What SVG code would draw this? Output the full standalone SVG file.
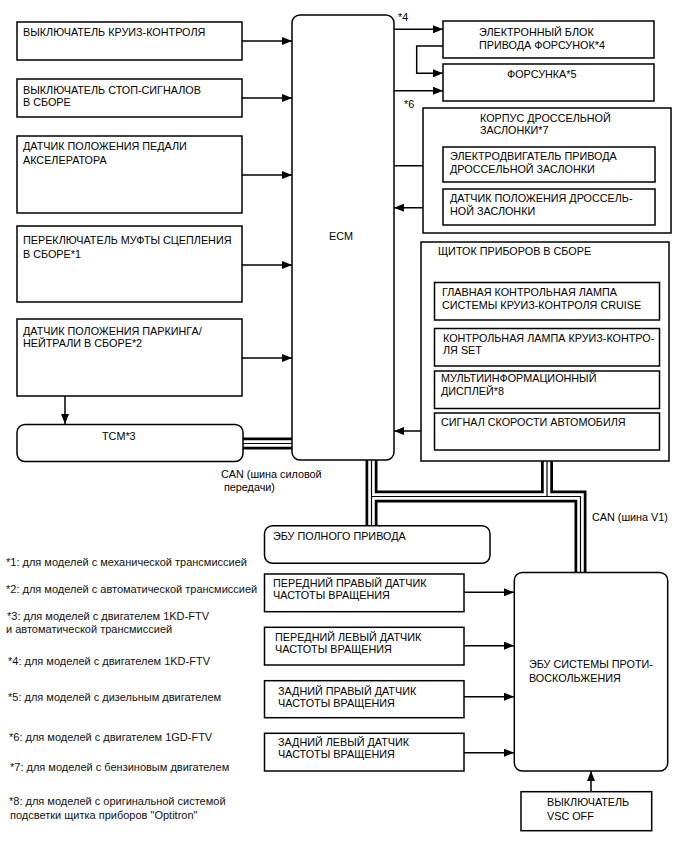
<svg xmlns="http://www.w3.org/2000/svg" width="688" height="852" viewBox="0 0 688 852">
<style>
.box{fill:#fff;stroke:#000;stroke-width:1.5}
.t{font-family:"Liberation Sans",Arial,sans-serif;font-size:10.8px;fill:#000}
.n{font-family:"Liberation Sans",Arial,sans-serif;font-size:11px;fill:#111}
.ln{fill:none;stroke:#000;stroke-width:1.5}
.b1{fill:none;stroke:#000;stroke-width:12;stroke-linejoin:miter}
.b2{fill:none;stroke:#fff;stroke-width:6.5;stroke-linejoin:miter}
.b3{fill:none;stroke:#000;stroke-width:1.2;stroke-linejoin:miter}
</style>
<defs>
<marker id="ah" viewBox="0 0 10 8" refX="10" refY="4" markerWidth="10" markerHeight="8" markerUnits="userSpaceOnUse" orient="auto">
<path d="M0,0 L10,4 L0,8 Z" fill="#000"/>
</marker>
<path id="bus1" d="M243 443.5 H292"/>
<path id="bus2" d="M371.5 460 V525.7"/>
<path id="bus3" d="M371.5 496.5 H580.5 V572.5"/>
<path id="bus4" d="M547 460.7 V496.5"/>
</defs>
<rect width="688" height="852" fill="#fff"/>

<g id="connectors">
<g id="buses">
<use href="#bus1" class="b1"/><use href="#bus2" class="b1"/><use href="#bus3" class="b1"/><use href="#bus4" class="b1"/>
<use href="#bus1" class="b2"/><use href="#bus2" class="b2"/><use href="#bus3" class="b2"/><use href="#bus4" class="b2"/>
<use href="#bus1" class="b3"/><use href="#bus2" class="b3"/><use href="#bus3" class="b3"/><use href="#bus4" class="b3"/>
</g>
<path class="ln" d="M242 41 H292" marker-end="url(#ah)"/>
<path class="ln" d="M242 98 H292" marker-end="url(#ah)"/>
<path class="ln" d="M242 175 H292" marker-end="url(#ah)"/>
<path class="ln" d="M242 265 H292" marker-end="url(#ah)"/>
<path class="ln" d="M242 358 H292" marker-end="url(#ah)"/>
<path class="ln" d="M65 396 V424" marker-end="url(#ah)"/>
<path class="ln" d="M394 29.3 H443" marker-end="url(#ah)"/>
<path class="ln" d="M443 46 H416.7 V73.3 H443" marker-end="url(#ah)"/>
<path class="ln" d="M394 90.7 H443" marker-end="url(#ah)"/>
<path class="ln" d="M394 165.7 H443" marker-end="url(#ah)"/>
<path class="ln" d="M443 207.7 H394" marker-end="url(#ah)"/>
<path class="ln" d="M434 431 H394" marker-end="url(#ah)"/>
<path class="ln" d="M464 592.3 H514" marker-end="url(#ah)"/>
<path class="ln" d="M464 645.7 H514" marker-end="url(#ah)"/>
<path class="ln" d="M464 696.7 H514" marker-end="url(#ah)"/>
<path class="ln" d="M464 752.7 H514" marker-end="url(#ah)"/>
<path class="ln" d="M591 791.7 V771" marker-end="url(#ah)"/>
<text class="t" x="398" y="21">*4</text>
<text class="t" x="404" y="108">*6</text>
<text class="t" x="221" y="478">CAN (шина силовой</text>
<text class="t" x="224" y="491">передачи)</text>
<text class="t" x="592" y="521">CAN (шина V1)</text>
</g>

<g id="cruise-switch"><rect class="box" x="17" y="22" width="225" height="38"/><text class="t" x="23" y="36">ВЫКЛЮЧАТЕЛЬ КРУИЗ-КОНТРОЛЯ</text></g>
<g id="stop-switch"><rect class="box" x="17" y="79" width="225" height="38"/><text class="t" x="23" y="94">ВЫКЛЮЧАТЕЛЬ СТОП-СИГНАЛОВ</text><text class="t" x="23" y="106">В СБОРЕ</text></g>
<g id="pedal-sensor"><rect class="box" x="17" y="136" width="225" height="77"/><text class="t" x="23" y="150">ДАТЧИК ПОЛОЖЕНИЯ ПЕДАЛИ</text><text class="t" x="23" y="164">АКСЕЛЕРАТОРА</text></g>
<g id="clutch-switch"><rect class="box" x="17" y="226" width="225" height="76"/><text class="t" x="23" y="244">ПЕРЕКЛЮЧАТЕЛЬ МУФТЫ СЦЕПЛЕНИЯ</text><text class="t" x="23" y="258">В СБОРЕ*1</text></g>
<g id="pn-sensor"><rect class="box" x="17" y="319" width="225" height="77"/><text class="t" x="23" y="335">ДАТЧИК ПОЛОЖЕНИЯ ПАРКИНГА/</text><text class="t" x="23" y="347">НЕЙТРАЛИ В СБОРЕ*2</text></g>
<g id="tcm"><rect class="box" x="17" y="424.5" width="226" height="37" rx="8"/><text class="t" x="102" y="440">TCM*3</text></g>

<g id="ecm"><rect class="box" x="292" y="15" width="102" height="445" rx="8"/><text class="t" x="329" y="240">ECM</text></g>

<g id="injector-driver"><rect class="box" x="443" y="21" width="211" height="37"/><text class="t" x="479" y="36">ЭЛЕКТРОННЫЙ БЛОК</text><text class="t" x="479" y="49">ПРИВОДА ФОРСУНОК*4</text></g>
<g id="injector"><rect class="box" x="443" y="64" width="211" height="37"/><text class="t" x="507" y="78">ФОРСУНКА*5</text></g>
<g id="throttle-body"><rect class="box" x="423" y="108" width="248" height="125"/><text class="t" x="480" y="122">КОРПУС ДРОССЕЛЬНОЙ</text><text class="t" x="480" y="134">ЗАСЛОНКИ*7</text></g>
<g id="throttle-motor"><rect class="box" x="443" y="147" width="212" height="35"/><text class="t" x="450" y="160">ЭЛЕКТРОДВИГАТЕЛЬ ПРИВОДА</text><text class="t" x="450" y="173">ДРОССЕЛЬНОЙ ЗАСЛОНКИ</text></g>
<g id="throttle-sensor"><rect class="box" x="443" y="189" width="212" height="36"/><text class="t" x="450" y="202">ДАТЧИК ПОЛОЖЕНИЯ ДРОССЕЛЬ-</text><text class="t" x="450" y="215">НОЙ ЗАСЛОНКИ</text></g>

<g id="cluster"><rect class="box" x="421" y="242" width="248" height="219"/><text class="t" x="438" y="255">ЩИТОК ПРИБОРОВ В СБОРЕ</text></g>
<g id="cruise-lamp"><rect class="box" x="434.5" y="282.5" width="225" height="37.5"/><text class="t" x="442" y="296">ГЛАВНАЯ КОНТРОЛЬНАЯ ЛАМПА</text><text class="t" x="442" y="309">СИСТЕМЫ КРУИЗ-КОНТРОЛЯ CRUISE</text></g>
<g id="set-lamp"><rect class="box" x="434.5" y="328.5" width="225" height="37.5"/><text class="t" x="443" y="342">КОНТРОЛЬНАЯ ЛАМПА КРУИЗ-КОНТРО-</text><text class="t" x="443" y="354">ЛЯ SET</text></g>
<g id="multi-display"><rect class="box" x="434.5" y="371" width="225" height="37.5"/><text class="t" x="441" y="382">МУЛЬТИИНФОРМАЦИОННЫЙ</text><text class="t" x="441" y="395">ДИСПЛЕЙ*8</text></g>
<g id="speed-signal"><rect class="box" x="434.5" y="413" width="225" height="37"/><text class="t" x="441" y="426">СИГНАЛ СКОРОСТИ АВТОМОБИЛЯ</text></g>

<g id="awd-ecu"><rect class="box" x="264.5" y="525.7" width="225.5" height="37.6" rx="8"/><text class="t" x="273" y="540">ЭБУ ПОЛНОГО ПРИВОДА</text></g>

<g id="fr-sensor"><rect class="box" x="264.5" y="574" width="199.5" height="37.7"/><text class="t" x="273" y="587">ПЕРЕДНИЙ ПРАВЫЙ ДАТЧИК</text><text class="t" x="273" y="599">ЧАСТОТЫ ВРАЩЕНИЯ</text></g>
<g id="fl-sensor"><rect class="box" x="264.5" y="627.3" width="199.5" height="37.7"/><text class="t" x="275" y="641">ПЕРЕДНИЙ ЛЕВЫЙ ДАТЧИК</text><text class="t" x="275" y="653">ЧАСТОТЫ ВРАЩЕНИЯ</text></g>
<g id="rr-sensor"><rect class="box" x="264.5" y="680.7" width="199.5" height="37"/><text class="t" x="278" y="695">ЗАДНИЙ ПРАВЫЙ ДАТЧИК</text><text class="t" x="278" y="707">ЧАСТОТЫ ВРАЩЕНИЯ</text></g>
<g id="rl-sensor"><rect class="box" x="264.5" y="733.3" width="199.5" height="37.7"/><text class="t" x="278" y="746">ЗАДНИЙ ЛЕВЫЙ ДАТЧИК</text><text class="t" x="278" y="758">ЧАСТОТЫ ВРАЩЕНИЯ</text></g>

<g id="abs-ecu"><rect class="box" x="514.3" y="572.5" width="153.4" height="198.5" rx="8"/><text class="t" x="529" y="668">ЭБУ СИСТЕМЫ ПРОТИ-</text><text class="t" x="529" y="682">ВОСКОЛЬЖЕНИЯ</text></g>
<g id="vsc-off"><rect class="box" x="521" y="791.7" width="130.7" height="39"/><text class="t" x="547" y="806">ВЫКЛЮЧАТЕЛЬ</text><text class="t" x="547" y="820">VSC OFF</text></g>

<g id="footnotes">
<text class="n" x="6" y="566">*1: для моделей с механической трансмиссией</text>
<text class="n" x="6" y="593">*2: для моделей с автоматической трансмиссией</text>
<text class="n" x="7" y="620">*3: для моделей с двигателем 1KD-FTV</text>
<text class="n" x="6" y="633">и автоматической трансмиссией</text>
<text class="n" x="8" y="665">*4: для моделей с двигателем 1KD-FTV</text>
<text class="n" x="8" y="701">*5: для моделей с дизельным двигателем</text>
<text class="n" x="9" y="741">*6: для моделей с двигателем 1GD-FTV</text>
<text class="n" x="10" y="771">*7: для моделей с бензиновым двигателем</text>
<text class="n" x="9" y="805">*8: для моделей с оригинальной системой</text>
<text class="n" x="10" y="819">подсветки щитка приборов "Optitron"</text>
</g>
</svg>
